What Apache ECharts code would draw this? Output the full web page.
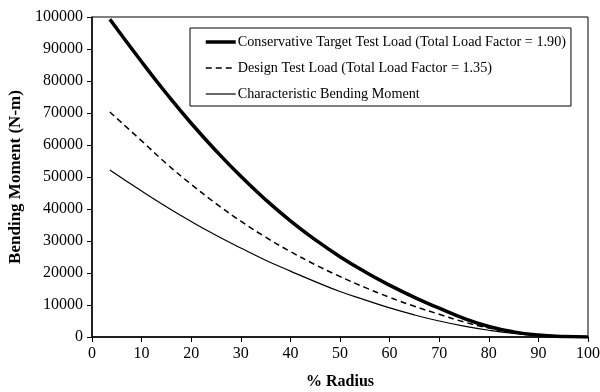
<!DOCTYPE html>
<html>
<head>
<meta charset="utf-8">
<script src="https://cdn.jsdelivr.net/npm/echarts@6/dist/echarts.min.js"></script>
<style>
  html, body { margin: 0; padding: 0; background: #fff; }
  #chart { width: 600px; height: 392px; }
</style>
</head>
<body>
<div id="chart"></div>
<script>
// % radius positions
const radius = [3.6, 10, 15, 20, 25, 30, 35, 40, 45, 50, 55, 60, 65, 70, 75, 80, 85, 90, 95, 100];

// bending moment values (N-m)
const conservative = [99300, 86000, 76100, 66800, 58200, 50200, 42900, 36300, 30400, 25100, 20400, 16200, 12400, 9000, 5800, 3300, 1600, 600, 150, 0];
const design = [70300, 61300, 54200, 47700, 41700, 36200, 31200, 26700, 22600, 18900, 15500, 12400, 9600, 7100, 4700, 2800, 1400, 600, 150, 0];
const characteristic = [52200, 45600, 40700, 36100, 31800, 27800, 24000, 20600, 17300, 14200, 11600, 9100, 6900, 5000, 3400, 2100, 1100, 450, 120, 0];

const seriesNames = [
  'Conservative Target Test Load (Total Load Factor = 1.90)',
  'Design Test Load (Total Load Factor = 1.35)',
  'Characteristic Bending Moment'
];

const pairs = vals => radius.map((r, i) => [r, vals[i]]);

const chart = echarts.init(document.getElementById('chart'));
const font = 'Liberation Serif';

chart.setOption({
  animation: false,
  color: ['#000', '#000', '#000'],
  textStyle: { fontFamily: font, color: '#000' },
  grid: {
    left: 92, right: 12, top: 17, bottom: 55,
    outerBoundsMode: 'none',
    show: true, borderColor: '#000', borderWidth: 1
  },
  legend: {
    orient: 'vertical',
    left: 190,
    top: 28,
    padding: [7, 5, 5, 14],
    itemGap: 12,
    itemWidth: 30,
    itemHeight: 14,
    backgroundColor: '#fff',
    borderColor: '#000',
    borderWidth: 1,
    itemStyle: { opacity: 0 },
    textStyle: { fontFamily: font, fontSize: 14.2, color: '#000', padding: [0, 0, 0, -3] },
    data: [
      { name: seriesNames[0], lineStyle: { width: 3.5 } },
      { name: seriesNames[1], lineStyle: { width: 1.5 } },
      { name: seriesNames[2], lineStyle: { width: 1.2 } }
    ]
  },
  xAxis: {
    type: 'value',
    min: 0, max: 100, interval: 10,
    name: '% Radius',
    nameLocation: 'middle',
    nameGap: 37,
    nameTextStyle: { fontFamily: font, fontSize: 16, fontWeight: 'bold', color: '#000' },
    axisLine: { lineStyle: { color: '#000', width: 1.5 } },
    axisTick: { show: true, length: 5, lineStyle: { color: '#000' } },
    axisLabel: { fontFamily: font, fontSize: 16, color: '#000', margin: 9 },
    splitLine: { show: false }
  },
  yAxis: {
    type: 'value',
    min: 0, max: 100000, interval: 10000,
    name: 'Bending Moment (N-m)',
    nameLocation: 'middle',
    nameGap: 66,
    nameTextStyle: { fontFamily: font, fontSize: 17, fontWeight: 'bold', color: '#000' },
    axisLine: { show: true, lineStyle: { color: '#000', width: 1.5 } },
    axisTick: { show: true, length: 5, lineStyle: { color: '#000' } },
    axisLabel: { fontFamily: font, fontSize: 16, color: '#000', margin: 9, formatter: v => String(v) },
    splitLine: { show: false }
  },
  series: [
    {
      name: seriesNames[0], type: 'line', smooth: true, symbol: 'none',
      itemStyle: { color: '#000' },
      lineStyle: { color: '#000', width: 3.5 },
      data: pairs(conservative)
    },
    {
      name: seriesNames[1], type: 'line', smooth: true, symbol: 'none',
      itemStyle: { color: '#000' },
      lineStyle: { color: '#000', width: 1.5, type: [6, 4] },
      data: pairs(design)
    },
    {
      name: seriesNames[2], type: 'line', smooth: true, symbol: 'none',
      itemStyle: { color: '#000' },
      lineStyle: { color: '#000', width: 1.2 },
      data: pairs(characteristic)
    }
  ]
});
</script>
</body>
</html>
